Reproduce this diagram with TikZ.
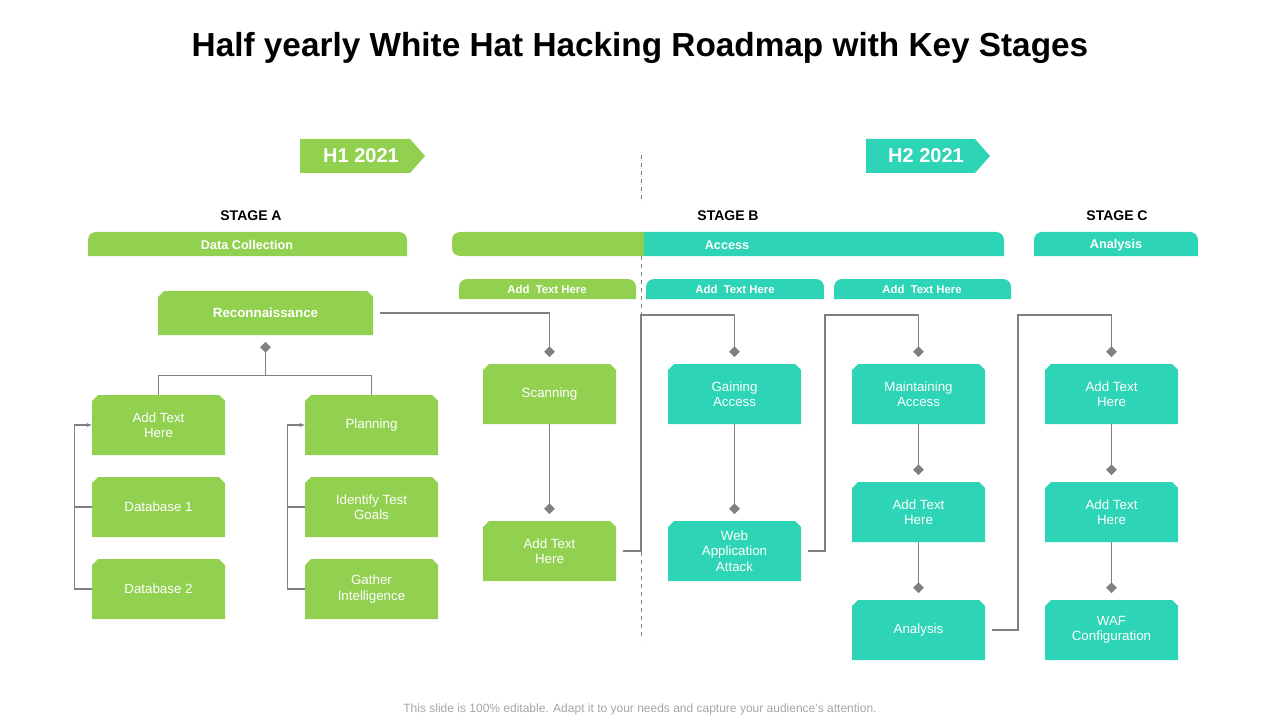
\documentclass[tikz,border=0pt]{standalone}
\usepackage{fontspec}
\setmainfont{Liberation Sans}
\usetikzlibrary{arrows.meta}
\definecolor{lgreen}{HTML}{92D050}
\definecolor{lteal}{HTML}{2DD4B5}
\definecolor{lgray}{HTML}{808080}
% chamfered box: name, cx, cy, w, h, colour, text
\newcommand\chbox[7]{%
  \fill[#6] ({#2-#4/2},{#3+#5/2}) -- ({#2-#4/2},{#3-#5/2+6}) -- ({#2-#4/2+6},{#3-#5/2})
     -- ({#2+#4/2-6},{#3-#5/2}) -- ({#2+#4/2},{#3-#5/2+6}) -- ({#2+#4/2},{#3+#5/2}) -- cycle;
  \node[boxtext, minimum width=#4*0.75pt, minimum height=#5*0.75pt] (#1) at (#2,#3) {#7};}
% bar with rounded top corners: x1, x2, y1, y2, colour
\newcommand\topbar[5]{%
  \fill[#5, rounded corners=8*0.75pt] (#1,#4) -- (#1,#3) -- (#2,#3) [sharp corners] -- (#2,#4) -- cycle;}
\begin{document}
\begin{tikzpicture}[x=0.75pt, y=-0.75pt, >={Stealth[length=4pt]},
  boxtext/.style={inner sep=0pt, text=white, font=\fontsize{10}{11.5}\selectfont, align=center},
  bartext/.style={text=white, font=\bfseries\fontsize{9.5}{11}\selectfont},
  subtext/.style={text=white, font=\bfseries\fontsize{8.5}{10}\selectfont},
  stagetext/.style={font=\bfseries\fontsize{10.5}{12}\selectfont},
  conn/.style={draw=lgray, line width=0.8pt},
  dia/.style={-{Diamond[length=8pt,width=8pt,fill=lgray]}, shorten >=5pt}]
\useasboundingbox (0,0) rectangle (1280,720);
\node[font=\bfseries\fontsize{25}{28}\selectfont] (title) at (640,48) {Half yearly White Hat Hacking Roadmap with Key Stages};
\node[text=gray!70, font=\fontsize{9}{10}\selectfont] (foot) at (640,709) {This slide is 100\% editable. Adapt it to your needs and capture your audience's attention.};
% half year tags
\fill[lgreen] (300,139) -- (410,139) -- (425,156) -- (410,173) -- (300,173) -- cycle;
\node[text=white, font=\bfseries\fontsize{15}{17}\selectfont] (h1) at (361,156) {H1 2021};
\fill[lteal] (866,139) -- (975,139) -- (990,156) -- (975,173) -- (866,173) -- cycle;
\node[text=white, font=\bfseries\fontsize{15}{17}\selectfont] (h2) at (926,156) {H2 2021};
\draw[lgray, dashed, thin] (641,155) -- (641,203);
% stages
\node[stagetext] (sa) at (251,216) {STAGE A};
\node[stagetext] (sb) at (728,216) {STAGE B};
\node[stagetext] (sc) at (1117,216) {STAGE C};
\topbar{88}{407}{232}{256}{lgreen}
\fill[lgreen, rounded corners=8*0.75pt] (644,256) -- (452,256) [rounded corners=8*0.75pt] -- (452,232) [sharp corners] -- (644,232) -- cycle;
\fill[lteal, rounded corners=8*0.75pt] (644,256) [sharp corners] -- (644,232) [rounded corners=8*0.75pt] -- (1004,232) [sharp corners] -- (1004,256) -- cycle;
\topbar{1034}{1198}{232}{256}{lteal}
\node[bartext] (dc) at (247,245) {Data Collection};
\node[bartext] (ac) at (727,245) {Access};
\node[bartext] (an) at (1116,245) {Analysis};
\topbar{459}{636}{279}{299}{lgreen}
\topbar{646}{824}{279}{299}{lteal}
\topbar{834}{1011}{279}{299}{lteal}
\node[subtext] (t1) at (547,289) {Add~ Text Here};
\node[subtext] (t2) at (735,289) {Add~ Text Here};
\node[subtext] (t3) at (922,289) {Add~ Text Here};
\draw[lgray, dashed, thin] (641,256) -- (641,640);
% boxes
\chbox{recon}{265.5}{313}{215}{44}{lgreen}{\bfseries Reconnaissance}
\chbox{at1}{158.5}{425}{133}{60}{lgreen}{Add Text\\Here}
\chbox{db1}{158.5}{507}{133}{60}{lgreen}{Database 1}
\chbox{db2}{158.5}{589}{133}{60}{lgreen}{Database 2}
\chbox{plan}{371.5}{425}{133}{60}{lgreen}{Planning}
\chbox{goal}{371.5}{507}{133}{60}{lgreen}{Identify Test\\Goals}
\chbox{gath}{371.5}{589}{133}{60}{lgreen}{Gather\\Intelligence}
\chbox{scan}{549.5}{394}{133}{60}{lgreen}{Scanning}
\chbox{at2}{549.5}{551}{133}{60}{lgreen}{Add Text\\Here}
\chbox{gain}{734.5}{394}{133}{60}{lteal}{Gaining\\Access}
\chbox{web}{734.5}{551}{133}{60}{lteal}{Web\\Application\\Attack}
\chbox{maint}{918.5}{394}{133}{60}{lteal}{Maintaining\\Access}
\chbox{at3}{918.5}{512}{133}{60}{lteal}{Add Text\\Here}
\chbox{anal}{918.5}{630}{133}{60}{lteal}{Analysis}
\chbox{at4}{1111.5}{394}{133}{60}{lteal}{Add Text\\Here}
\chbox{at5}{1111.5}{512}{133}{60}{lteal}{Add Text\\Here}
\chbox{waf}{1111.5}{630}{133}{60}{lteal}{WAF\\Configuration}
% connectors
\draw[conn, {Diamond[length=8pt,width=8pt,fill=lgray]}-, shorten <=5pt] (recon.south) -- ++(0,40) -| (at1.north);
\draw[conn] ([yshift=-40*0.75pt]recon.south) -| (plan.north);
\draw[conn, ->] (db2.west) -- ++(-17,0) |- (at1.west);
\draw[conn] (db1.west) -- ++(-17,0);
\draw[conn, ->] (gath.west) -- ++(-17,0) |- (plan.west);
\draw[conn] (goal.west) -- ++(-17,0);
\coordinate (j1) at (641,315);
\coordinate (j2) at (825,315);
\coordinate (j3) at (1018,315);
\draw[conn, dia, shorten <=5pt] (recon.east) -| (scan.north);
\draw[conn, dia] (scan.south) -- (at2.north);
\draw[conn, dia, shorten <=5pt] (at2.east) -| (j1) -| (gain.north);
\draw[conn, dia] (gain.south) -- (web.north);
\draw[conn, dia, shorten <=5pt] (web.east) -| (j2) -| (maint.north);
\draw[conn, dia] (maint.south) -- (at3.north);
\draw[conn, dia] (at3.south) -- (anal.north);
\draw[conn, dia, shorten <=5pt] (anal.east) -| (j3) -| (at4.north);
\draw[conn, dia] (at4.south) -- (at5.north);
\draw[conn, dia] (at5.south) -- (waf.north);
\end{tikzpicture}
\end{document}
